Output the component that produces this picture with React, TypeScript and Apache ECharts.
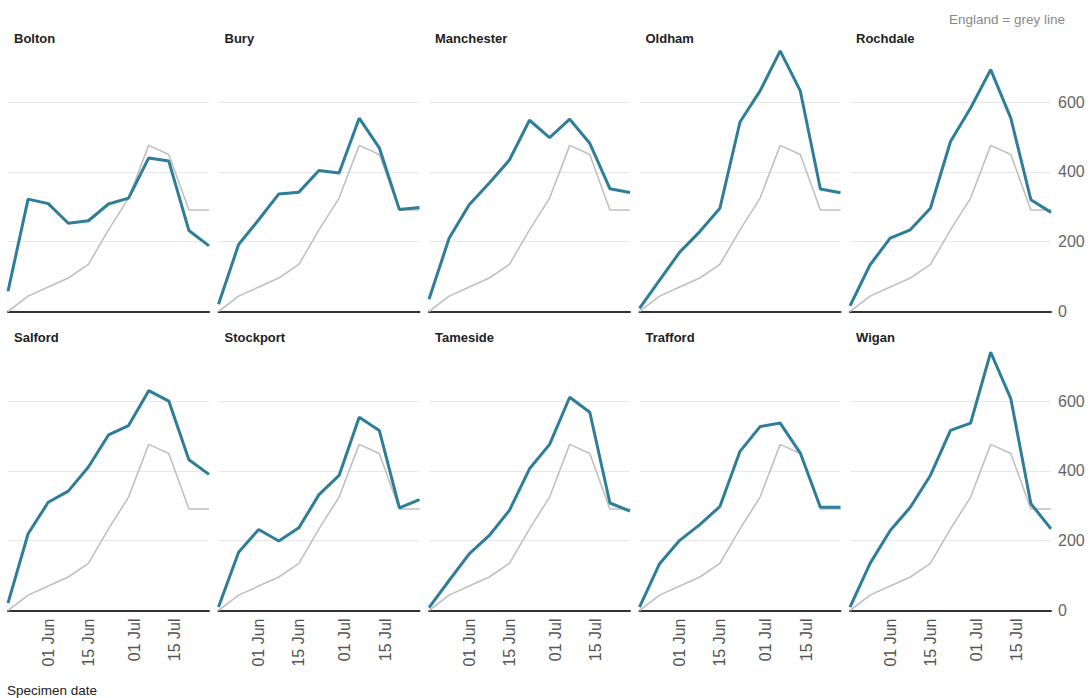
import React, { useEffect, useRef } from 'react';
import * as echarts from 'echarts';

// Week-commencing specimen dates (x values)
const weekStarts = [
  '2020-05-18', '2020-05-25', '2020-06-01', '2020-06-08', '2020-06-15', '2020-06-22',
  '2020-06-29', '2020-07-06', '2020-07-13', '2020-07-20', '2020-07-27',
];

const areaNames = ['Bolton', 'Bury', 'Manchester', 'Oldham', 'Rochdale', 'Salford', 'Stockport', 'Tameside', 'Trafford', 'Wigan'];

const england = [0, 44, 70, 96, 135, 234, 325, 476, 450, 291, 291];

const bolton = [58, 322, 309, 253, 260, 308, 325, 440, 431, 232, 188];
const bury = [21, 192, 263, 337, 342, 404, 397, 554, 469, 292, 298];
const manchester = [35, 210, 306, 368, 434, 548, 498, 551, 482, 352, 341];
const oldham = [9, 90, 170, 229, 296, 543, 632, 747, 632, 351, 340];
const rochdale = [16, 134, 210, 234, 296, 487, 583, 693, 554, 320, 284];
const salford = [21, 220, 310, 342, 411, 503, 530, 630, 600, 432, 390];
const stockport = [10, 167, 232, 199, 237, 332, 387, 554, 516, 294, 318];
const tameside = [8, 86, 162, 215, 287, 406, 476, 611, 568, 308, 285];
const trafford = [10, 134, 201, 246, 298, 456, 527, 537, 451, 296, 296];
const wigan = [10, 135, 229, 296, 387, 516, 537, 740, 607, 306, 234];

const areaValues = [bolton, bury, manchester, oldham, rochdale, salford, stockport, tameside, trafford, wigan];

const xTickDates = ['2020-06-01', '2020-06-15', '2020-07-01', '2020-07-15'];
const xTickLabels = ['01 Jun', '15 Jun', '01 Jul', '15 Jul'];
const yTicks = [0, 200, 400, 600];
const yMax = 800;

const BLUE = '#2e7d99';
const GREY = '#c0c0c0';
const FONT = '"Liberation Sans", Arial, sans-serif';

const dayOf = (d: string) => Math.round((Date.parse(d) - Date.parse(weekStarts[0])) / 86400000);

export default function App() {
  const ref = useRef<HTMLDivElement>(null);

  useEffect(() => {
    document.body.style.margin = '0';
    if (!ref.current) return;
    const chart = echarts.init(ref.current, undefined, { renderer: 'svg' });

    const xDays = weekStarts.map(dayOf);
    const xMax = xDays[xDays.length - 1];
    const tickDays = xTickDates.map(dayOf);

    const grids: any[] = [];
    const xAxes: any[] = [];
    const yAxes: any[] = [];
    const series: any[] = [];
    const graphics: any[] = [];

    areaNames.forEach((name, i) => {
      const col = i % 5;
      const row = Math.floor(i / 5);
      const left = 8 + col * 210.5;
      const top = row === 0 ? 32.3 : 331.3;
      grids.push({ left, top, width: 201, height: 279.2, containLabel: false, outerBoundsMode: 'none' });

      xAxes.push({
        type: 'value',
        gridIndex: i,
        min: 0,
        max: xMax,
        axisLine: { show: true, onZero: false, lineStyle: { color: '#333', width: 2 } },
        axisTick: { show: false },
        splitLine: { show: false },
        axisLabel: {
          show: row === 1,
          customValues: tickDays,
          rotate: 90,
          margin: 8,
          fontSize: 16,
          fontFamily: FONT,
          color: '#555',
          formatter: (v: number) => {
            const k = tickDays.indexOf(Math.round(v));
            return k >= 0 ? xTickLabels[k] : '';
          },
        },
      });

      yAxes.push({
        type: 'value',
        gridIndex: i,
        min: 0,
        max: yMax,
        interval: 200,
        position: 'right',
        axisLine: { show: false },
        axisTick: { show: false },
        splitLine: {
          show: true,
          showMaxLine: false,
          lineStyle: { color: ['#e8e8e8', '#e8e8e8', '#e8e8e8', '#e8e8e8', 'rgba(0,0,0,0)'], width: 1 },
        },
        axisLabel: {
          show: col === 4,
          customValues: yTicks,
          margin: 7,
          fontSize: 16,
          fontFamily: FONT,
          color: '#666',
          formatter: (v: number) => (yTicks.indexOf(v) >= 0 ? String(v) : ''),
        },
      });

      series.push({
        type: 'line',
        name: 'England',
        xAxisIndex: i,
        yAxisIndex: i,
        data: england.map((v, j) => [xDays[j], v]),
        symbol: 'none',
        silent: true,
        lineStyle: { color: GREY, width: 1.6 },
        z: 2,
      });
      series.push({
        type: 'line',
        name,
        xAxisIndex: i,
        yAxisIndex: i,
        data: areaValues[i].map((v, j) => [xDays[j], v]),
        symbol: 'none',
        silent: true,
        lineStyle: { color: BLUE, width: 3 },
        z: 3,
      });

      graphics.push({
        type: 'text',
        x: left + 6,
        y: row === 0 ? 38 : 337,
        style: {
          text: name,
          font: `bold 13px ${FONT}`,
          fill: '#222',
          align: 'left',
          verticalAlign: 'middle',
        },
      });
    });

    graphics.push({
      type: 'text',
      x: 1065,
      y: 19,
      style: {
        text: 'England = grey line',
        font: `13.5px ${FONT}`,
        fill: '#888',
        align: 'right',
        verticalAlign: 'middle',
      },
    });
    graphics.push({
      type: 'text',
      x: 7,
      y: 690,
      style: {
        text: 'Specimen date',
        font: `13.5px ${FONT}`,
        fill: '#222',
        align: 'left',
        verticalAlign: 'middle',
      },
    });

    chart.setOption({
      animation: false,
      backgroundColor: '#fff',
      grid: grids,
      xAxis: xAxes,
      yAxis: yAxes,
      series,
      graphic: graphics,
    });

    return () => chart.dispose();
  }, []);

  return <div ref={ref} style={{ width: 1092, height: 698 }} />;
}
